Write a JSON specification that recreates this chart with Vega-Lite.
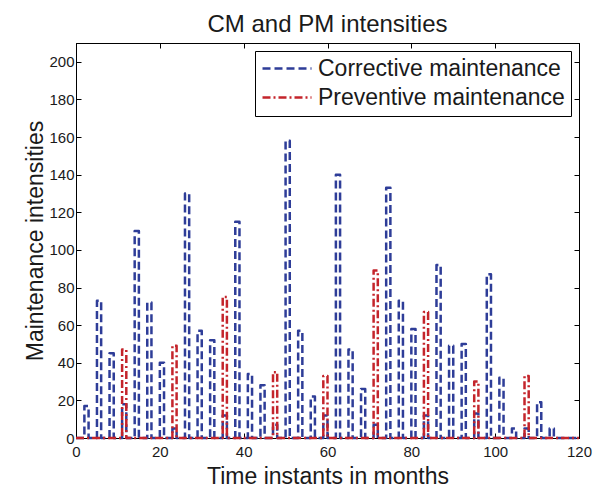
{
  "$schema": "https://vega.github.io/schema/vega-lite/v6.json",
  "width": 503,
  "height": 395,
  "autosize": {"type": "none"},
  "padding": {"left": 76, "top": 43, "right": 24, "bottom": 51},
  "background": "white",
  "config": {
    "view": {"stroke": "black", "strokeWidth": 1},
    "font": "Liberation Sans",
    "axis": {"grid": false, "domainColor": "black", "tickColor": "black", "labelColor": "#1a1a1a", "titleColor": "#1a1a1a", "labelFont": "Liberation Sans", "titleFont": "Liberation Sans", "labelFontSize": 15, "titleFontSize": 23, "titleFontWeight": "normal", "tickSize": -5, "tickWidth": 1, "domainWidth": 1}
  },
  "title": {"text": "CM and PM intensities", "fontSize": 24, "fontWeight": "normal", "font": "Liberation Sans", "color": "#1a1a1a", "baseline": "alphabetic", "offset": -13, "frame": "group", "anchor": "middle"},
  "data": {
    "values": [
      {"month": 0, "value": 0, "series": "Corrective maintenance"},
      {"month": 2, "value": 17, "series": "Corrective maintenance"},
      {"month": 3, "value": 0, "series": "Corrective maintenance"},
      {"month": 5, "value": 73, "series": "Corrective maintenance"},
      {"month": 6, "value": 0, "series": "Corrective maintenance"},
      {"month": 8, "value": 45, "series": "Corrective maintenance"},
      {"month": 9, "value": 0, "series": "Corrective maintenance"},
      {"month": 11, "value": 18, "series": "Corrective maintenance"},
      {"month": 12, "value": 0, "series": "Corrective maintenance"},
      {"month": 14, "value": 110, "series": "Corrective maintenance"},
      {"month": 15, "value": 0, "series": "Corrective maintenance"},
      {"month": 17, "value": 72, "series": "Corrective maintenance"},
      {"month": 18, "value": 0, "series": "Corrective maintenance"},
      {"month": 20, "value": 40, "series": "Corrective maintenance"},
      {"month": 21, "value": 0, "series": "Corrective maintenance"},
      {"month": 23, "value": 5, "series": "Corrective maintenance"},
      {"month": 24, "value": 0, "series": "Corrective maintenance"},
      {"month": 26, "value": 130, "series": "Corrective maintenance"},
      {"month": 27, "value": 0, "series": "Corrective maintenance"},
      {"month": 29, "value": 57, "series": "Corrective maintenance"},
      {"month": 30, "value": 0, "series": "Corrective maintenance"},
      {"month": 32, "value": 52, "series": "Corrective maintenance"},
      {"month": 33, "value": 0, "series": "Corrective maintenance"},
      {"month": 35, "value": 12, "series": "Corrective maintenance"},
      {"month": 36, "value": 0, "series": "Corrective maintenance"},
      {"month": 38, "value": 115, "series": "Corrective maintenance"},
      {"month": 39, "value": 0, "series": "Corrective maintenance"},
      {"month": 41, "value": 34, "series": "Corrective maintenance"},
      {"month": 42, "value": 0, "series": "Corrective maintenance"},
      {"month": 44, "value": 28, "series": "Corrective maintenance"},
      {"month": 45, "value": 0, "series": "Corrective maintenance"},
      {"month": 47, "value": 7, "series": "Corrective maintenance"},
      {"month": 48, "value": 0, "series": "Corrective maintenance"},
      {"month": 50, "value": 158, "series": "Corrective maintenance"},
      {"month": 51, "value": 0, "series": "Corrective maintenance"},
      {"month": 53, "value": 57, "series": "Corrective maintenance"},
      {"month": 54, "value": 0, "series": "Corrective maintenance"},
      {"month": 56, "value": 22, "series": "Corrective maintenance"},
      {"month": 57, "value": 0, "series": "Corrective maintenance"},
      {"month": 59, "value": 12, "series": "Corrective maintenance"},
      {"month": 60, "value": 0, "series": "Corrective maintenance"},
      {"month": 62, "value": 140, "series": "Corrective maintenance"},
      {"month": 63, "value": 0, "series": "Corrective maintenance"},
      {"month": 65, "value": 47, "series": "Corrective maintenance"},
      {"month": 66, "value": 0, "series": "Corrective maintenance"},
      {"month": 68, "value": 26, "series": "Corrective maintenance"},
      {"month": 69, "value": 0, "series": "Corrective maintenance"},
      {"month": 71, "value": 7, "series": "Corrective maintenance"},
      {"month": 72, "value": 0, "series": "Corrective maintenance"},
      {"month": 74, "value": 133, "series": "Corrective maintenance"},
      {"month": 75, "value": 0, "series": "Corrective maintenance"},
      {"month": 77, "value": 73, "series": "Corrective maintenance"},
      {"month": 78, "value": 0, "series": "Corrective maintenance"},
      {"month": 80, "value": 58, "series": "Corrective maintenance"},
      {"month": 81, "value": 0, "series": "Corrective maintenance"},
      {"month": 83, "value": 12, "series": "Corrective maintenance"},
      {"month": 84, "value": 0, "series": "Corrective maintenance"},
      {"month": 86, "value": 92, "series": "Corrective maintenance"},
      {"month": 87, "value": 0, "series": "Corrective maintenance"},
      {"month": 89, "value": 49, "series": "Corrective maintenance"},
      {"month": 90, "value": 0, "series": "Corrective maintenance"},
      {"month": 92, "value": 50, "series": "Corrective maintenance"},
      {"month": 93, "value": 0, "series": "Corrective maintenance"},
      {"month": 95, "value": 13, "series": "Corrective maintenance"},
      {"month": 96, "value": 0, "series": "Corrective maintenance"},
      {"month": 98, "value": 87, "series": "Corrective maintenance"},
      {"month": 99, "value": 0, "series": "Corrective maintenance"},
      {"month": 101, "value": 32, "series": "Corrective maintenance"},
      {"month": 102, "value": 0, "series": "Corrective maintenance"},
      {"month": 104, "value": 5, "series": "Corrective maintenance"},
      {"month": 105, "value": 0, "series": "Corrective maintenance"},
      {"month": 107, "value": 5, "series": "Corrective maintenance"},
      {"month": 108, "value": 0, "series": "Corrective maintenance"},
      {"month": 110, "value": 19, "series": "Corrective maintenance"},
      {"month": 111, "value": 0, "series": "Corrective maintenance"},
      {"month": 113, "value": 5, "series": "Corrective maintenance"},
      {"month": 114, "value": 0, "series": "Corrective maintenance"},
      {"month": 120, "value": 0, "series": "Corrective maintenance"},
      {"month": 0, "value": 0, "series": "Preventive maintenance"},
      {"month": 11, "value": 47, "series": "Preventive maintenance"},
      {"month": 12, "value": 0, "series": "Preventive maintenance"},
      {"month": 23, "value": 49, "series": "Preventive maintenance"},
      {"month": 24, "value": 0, "series": "Preventive maintenance"},
      {"month": 35, "value": 75, "series": "Preventive maintenance"},
      {"month": 36, "value": 0, "series": "Preventive maintenance"},
      {"month": 47, "value": 35, "series": "Preventive maintenance"},
      {"month": 48, "value": 0, "series": "Preventive maintenance"},
      {"month": 59, "value": 33, "series": "Preventive maintenance"},
      {"month": 60, "value": 0, "series": "Preventive maintenance"},
      {"month": 71, "value": 89, "series": "Preventive maintenance"},
      {"month": 72, "value": 0, "series": "Preventive maintenance"},
      {"month": 83, "value": 67, "series": "Preventive maintenance"},
      {"month": 84, "value": 0, "series": "Preventive maintenance"},
      {"month": 95, "value": 30, "series": "Preventive maintenance"},
      {"month": 96, "value": 0, "series": "Preventive maintenance"},
      {"month": 107, "value": 33, "series": "Preventive maintenance"},
      {"month": 108, "value": 0, "series": "Preventive maintenance"},
      {"month": 120, "value": 0, "series": "Preventive maintenance"}
    ]
  },
  "layer": [
    {
      "transform": [{"filter": "datum.series === 'Corrective maintenance'"}],
      "mark": {"type": "line", "interpolate": "step-after", "strokeWidth": 2.5, "strokeJoin": "round", "clip": false},
      "encoding": {
        "x": {"field": "month", "type": "quantitative", "scale": {"domain": [0, 120], "nice": false, "zero": false}, "axis": {"orient": "bottom", "values": [0, 20, 40, 60, 80, 100, 120], "title": "Time instants in months", "labelPadding": 11, "titlePadding": 6, "labelFlush": false}},
        "y": {"field": "value", "type": "quantitative", "scale": {"domain": [0, 210], "nice": false}, "axis": {"orient": "left", "values": [0, 20, 40, 60, 80, 100, 120, 140, 160, 180, 200], "title": "Maintenance intensities", "labelPadding": 7, "titlePadding": 1}},
        "color": {"field": "series", "type": "nominal", "scale": {"domain": ["Corrective maintenance", "Preventive maintenance"], "range": ["#2e3d98", "#c4242b"]}, "legend": {"title": null, "orient": "top-right", "offset": 8, "padding": 6, "fillColor": "white", "strokeColor": "black", "labelFontSize": 23, "labelFont": "Liberation Sans", "labelColor": "#1a1a1a", "labelLimit": 400, "symbolType": "stroke", "symbolSize": 2401, "symbolStrokeWidth": 2.5, "labelOffset": 5, "clipHeight": 23, "rowPadding": 5, "cornerRadius": 0}},
        "strokeDash": {"field": "series", "type": "nominal", "scale": {"domain": ["Corrective maintenance", "Preventive maintenance"], "range": [[8, 4], [8, 3, 2, 3]]}, "legend": {"title": null, "orient": "top-right", "offset": 8, "padding": 6, "fillColor": "white", "strokeColor": "black", "labelFontSize": 23, "labelFont": "Liberation Sans", "labelColor": "#1a1a1a", "labelLimit": 400, "symbolType": "stroke", "symbolSize": 2401, "symbolStrokeWidth": 2.5, "labelOffset": 5, "clipHeight": 23, "rowPadding": 5, "cornerRadius": 0}}
      }
    },
    {
      "transform": [{"filter": "datum.series === 'Preventive maintenance'"}],
      "mark": {"type": "line", "interpolate": "step-after", "strokeWidth": 2.5, "strokeJoin": "round", "clip": false},
      "encoding": {
        "x": {"field": "month", "type": "quantitative", "scale": {"domain": [0, 120], "nice": false, "zero": false}, "axis": {"orient": "top", "values": [0, 20, 40, 60, 80, 100, 120], "title": null, "labels": false}},
        "y": {"field": "value", "type": "quantitative", "scale": {"domain": [0, 210], "nice": false}, "axis": {"orient": "right", "values": [0, 20, 40, 60, 80, 100, 120, 140, 160, 180, 200], "title": null, "labels": false}},
        "color": {"field": "series", "type": "nominal", "scale": {"domain": ["Corrective maintenance", "Preventive maintenance"], "range": ["#2e3d98", "#c4242b"]}},
        "strokeDash": {"field": "series", "type": "nominal", "scale": {"domain": ["Corrective maintenance", "Preventive maintenance"], "range": [[8, 4], [8, 3, 2, 3]]}}
      }
    }
  ],
  "resolve": {"axis": {"x": "independent", "y": "independent"}}
}
